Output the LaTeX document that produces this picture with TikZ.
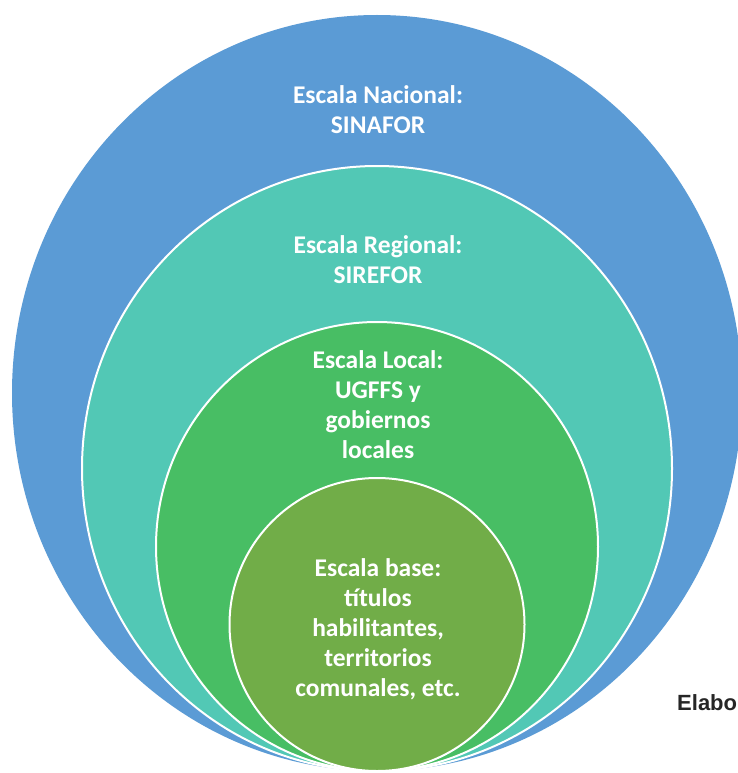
\documentclass[tikz,border=0pt]{standalone}
\usepackage{fontspec}
\setmainfont{Carlito}
\newfontfamily\arialfont{Liberation Sans}
\definecolor{cblue}{HTML}{5B9BD5}
\definecolor{cteal}{HTML}{52C8B5}
\definecolor{cgreen}{HTML}{48BE64}
\definecolor{colive}{HTML}{71AD48}
\begin{document}
\begin{tikzpicture}[x=1pt,y=-1pt,
  ring/.style={draw=white,line width=2pt},
  lbl/.style={text=white,align=center,font=\fontsize{25.5}{30}\selectfont\bfseries,inner sep=0pt}]
\useasboundingbox (0,0) rectangle (738,773);
\clip (0,0) rectangle (738,773);
\fill[white] (0,0) rectangle (738,773);
\fill[cblue] (377,393) ellipse [x radius=365, y radius=378];
\filldraw[ring,fill=cteal] (377,468.5) ellipse [x radius=295, y radius=302.5];
\filldraw[ring,fill=cgreen] (377,546.5) ellipse [x radius=221, y radius=224.5];
\filldraw[ring,fill=colive] (377,624.5) ellipse [x radius=147.5, y radius=146.5];
\node[lbl] (nac) at (378,110) {Escala Nacional:\\SINAFOR};
\node[lbl] (reg) at (378,260) {Escala Regional:\\SIREFOR};
\node[lbl] (loc) at (378,405) {Escala Local:\\UGFFS y\\gobiernos\\locales};
\node[lbl] (bas) at (378,629) {Escala base:\\títulos\\habilitantes,\\territorios\\comunales, etc.};
\node[anchor=base west,inner sep=0pt,text=black!85,font=\arialfont\bfseries\fontsize{22}{24}\selectfont] (src) at (677,710) {Elabo};
\end{tikzpicture}
\end{document}
